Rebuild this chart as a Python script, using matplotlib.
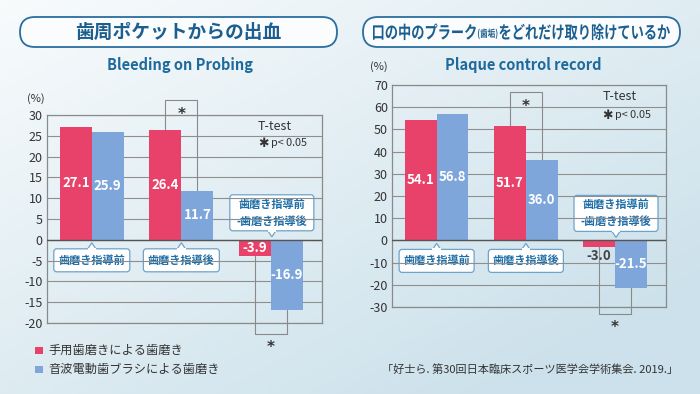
import matplotlib
matplotlib.use('Agg')
import matplotlib.pyplot as plt
import numpy as np
from matplotlib.patches import FancyBboxPatch, Polygon, Rectangle, PathPatch
from matplotlib.textpath import TextPath
from matplotlib.font_manager import FontProperties
from matplotlib.transforms import Affine2D

plt.rcParams['font.family'] = ['Noto Sans CJK JP', 'DejaVu Sans']

# data
groups = ['歯磨き指導前', '歯磨き指導後', '歯磨き指導前\n-歯磨き指導後']
series_names = ['手用歯磨きによる歯磨き', '音波電動歯ブラシによる歯磨き']
bop_manual = [27.1, 26.4, -3.9]
bop_sonic = [25.9, 11.7, -16.9]
pcr_manual = [54.1, 51.7, -3.0]
pcr_sonic = [56.8, 36.0, -21.5]
bop_ticks = [-20, -15, -10, -5, 0, 5, 10, 15, 20, 25, 30]
pcr_ticks = [-30, -20, -10, 0, 10, 20, 30, 40, 50, 60, 70]

RED = '#E8416A'
BLUE = '#7EA6DA'
NAVY = '#1C5F8F'
BOXBLUE = '#1F6EA6'
W, H = 700, 394

fig = plt.figure(figsize=(7, 3.94), dpi=100)

# background (pixel coordinates)
bg = fig.add_axes([0, 0, 1, 1], zorder=0)
bg.set_xlim(0, W)
bg.set_ylim(H, 0)
bg.axis('off')
xx, yy = np.meshgrid(np.linspace(0, 1, 200), np.linspace(0, 1, 120))
t = np.clip(0.55 * xx + 0.6 * yy, 0, 1)
c0 = np.array([0xF8, 0xFB, 0xFC]) / 255
c1 = np.array([0xCC, 0xE1, 0xEB]) / 255
img = c0[None, None, :] * (1 - t[..., None]) + c1[None, None, :] * t[..., None]
bg.imshow(img, extent=[0, W, H, 0], aspect='auto', zorder=0)

# title boxes
for x0, x1 in [(20, 337), (363, 680)]:
    bg.add_patch(FancyBboxPatch((x0, 17), x1 - x0, 30,
                                boxstyle='round,pad=0,rounding_size=15',
                                fc='#FAFCFD', ec='#2A6E9E', lw=1.3, zorder=2))
bg.text(178, 32, '歯周ポケットからの出血', ha='center', va='center',
        fontsize=13.5, fontweight='bold', color=NAVY, zorder=3)
bg.text(180, 65, 'Bleeding on Probing', ha='center', va='center',
        fontsize=10.5, fontweight='bold', color='#1E6A9C', zorder=3)

# right title: condensed lettering with small (歯垢)
bold = FontProperties(family='Noto Sans CJK JP', weight='bold')
parts = [('口の中のプラーク', 17.5, 0), ('(歯垢)', 10, -1.5),
         ('をどれだけ取り除けているか', 17.5, 0)]
paths, widths = [], []
for s, size, _ in parts:
    p = TextPath((0, 0), s, size=size, prop=bold)
    ext = p.get_extents()
    paths.append((p, ext))
    widths.append(ext.x1 - ext.x0)
x_start, x_end = 373, 670
sx = (x_end - x_start - 4) / sum(widths)
cur = x_start
for (p, ext), (s, size, dy), w in zip(paths, parts, widths):
    tr = Affine2D().translate(-ext.x0, 0).scale(sx, -1.0).translate(cur, 38.5 + dy)
    bg.add_patch(PathPatch(tr.transform_path(p), fc=NAVY, ec='none', zorder=3))
    cur += w * sx + 2
bg.text(523, 65, 'Plaque control record', ha='center', va='center',
        fontsize=10.5, fontweight='bold', color='#1E6A9C', zorder=3)

# legend
for i, (name, col) in enumerate(zip(series_names, [RED, BLUE])):
    y = 350 + i * 19.5
    bg.add_patch(Rectangle((35, y - 3.5), 8, 7, fc=col, ec='none', zorder=2))
    bg.text(48, y, name, ha='left', va='center', fontsize=8.8,
            color='#333333', zorder=3)
bg.text(678, 370, '「好士ら. 第30回日本臨床スポーツ医学会学術集会. 2019.」',
        ha='right', va='center', fontsize=8, color='#333333', zorder=3)


def draw_chart(rect, manual, sonic, ticks, sig_top, sig_bot, box_w, pct_xy):
    ax = fig.add_axes(rect, zorder=1)
    ax.set_facecolor('none')
    x = np.arange(len(groups))
    bw = 0.357
    ax.bar(x - bw / 2, manual, bw, color=RED, zorder=2)
    ax.bar(x + bw / 2, sonic, bw, color=BLUE, zorder=2)
    ax.set_xlim(-0.5, 2.57)
    ax.set_ylim(ticks[0], ticks[-1])
    ax.set_yticks(ticks)
    ax.set_yticklabels([str(v) for v in ticks])
    ax.set_xticks([])
    ax.tick_params(axis='y', length=0, pad=3, labelsize=9, labelcolor='#333333')
    for v in ticks:
        ax.axhline(v, color='#8F8F8F', lw=0.8, zorder=1)
    ax.axhline(0, color='#555555', lw=1.0, zorder=3)
    for s in ax.spines.values():
        s.set_color('#8A8A8A')
        s.set_linewidth(0.9)
    span = ticks[-1] - ticks[0]

    # value labels
    for xs, vals in [(x - bw / 2, manual), (x + bw / 2, sonic)]:
        for xi, v in zip(xs, vals):
            if abs(v) / span < 0.05:
                ax.annotate(f'{v:.1f}', (xi, v), xytext=(0, -1.5),
                            textcoords='offset points', ha='center', va='top',
                            fontsize=9.5, fontweight='bold', color='#444444')
            else:
                ax.text(xi, v / 2, f'{v:.1f}', ha='center', va='center',
                        fontsize=9.5, fontweight='bold', color='white', zorder=4)

    # significance brackets
    xl, xr = x[1] - bw / 2, x[1] + bw / 2
    ax.plot([xl, xl, xr, xr], [manual[1], sig_top, sig_top, sonic[1]],
            color='#8A8A8A', lw=0.8, clip_on=False, zorder=1.5)
    ax.annotate('*', ((xl + xr) / 2, sig_top), xytext=(0, -10.5),
                textcoords='offset points', ha='center', va='center',
                fontsize=11, fontweight='bold', color='#333333',
                family='DejaVu Sans', annotation_clip=False)
    xl, xr = x[2] - bw / 2, x[2] + bw / 2
    ax.plot([xl, xl, xr, xr], [manual[2], sig_bot, sig_bot, sonic[2]],
            color='#8A8A8A', lw=0.8, clip_on=False, zorder=1.5)
    ax.annotate('*', ((xl + xr) / 2, sig_bot), xytext=(0, -10),
                textcoords='offset points', ha='center', va='center',
                fontsize=11, fontweight='bold', color='#333333',
                family='DejaVu Sans', annotation_clip=False)

    # T-test note
    ax.text(0.767, 0.947, 'T-test', transform=ax.transAxes, ha='left',
            va='center', fontsize=9, color='#333333')
    ax.text(0.767, 0.862, '✱', transform=ax.transAxes, ha='left',
            va='center', fontsize=9, color='#333333', family='DejaVu Sans')
    ax.text(0.815, 0.865, 'p< 0.05', transform=ax.transAxes, ha='left',
            va='center', fontsize=7.8, color='#333333')

    bg.text(pct_xy[0], pct_xy[1], '(%)', ha='left', va='center', fontsize=8,
            color='#333333', zorder=3)

    # callout bubbles (pixel coords)
    for i, label in enumerate(groups):
        dx, dy = ax.transData.transform((x[i] + (0.01 if i == 2 else 0), 0))
        px, pz = dx, H - dy
        two = '\n' in label
        bwid, bh = (84, 36) if two else (box_w, 23)
        if two:
            tip = pz - 3
            base = tip - 6
            top = base - bh
        else:
            tip = pz + 3
            base = tip + 6
            top = base
        bg.add_patch(FancyBboxPatch((px - bwid / 2, top), bwid, bh,
                                    boxstyle='round,pad=0,rounding_size=3',
                                    fc='white', ec='#6FA3CA', lw=0.9, zorder=5))
        bg.add_patch(Polygon([(px - 4, base), (px, tip), (px + 4, base)],
                             closed=False, fc='white', ec='#6FA3CA', lw=0.9,
                             zorder=6))
        bg.plot([px - 3.2, px + 3.2], [base, base], color='white', lw=1.4,
                zorder=7)
        bg.text(px, top + bh / 2, label, ha='center',
                va='center', fontsize=8, fontweight='bold', color=BOXBLUE,
                linespacing=1.4, zorder=8)
    return ax


draw_chart([47 / W, 1 - 323 / H, 275 / W, 208 / H], bop_manual, bop_sonic,
           bop_ticks, 33.6, -22.6, 76, (27, 99))
draw_chart([392 / W, 1 - 307 / H, 274 / W, 222 / H], pcr_manual, pcr_sonic,
           pcr_ticks, 66.8, -33.2, 75, (370, 67))

fig.savefig('out.png', dpi=100)
